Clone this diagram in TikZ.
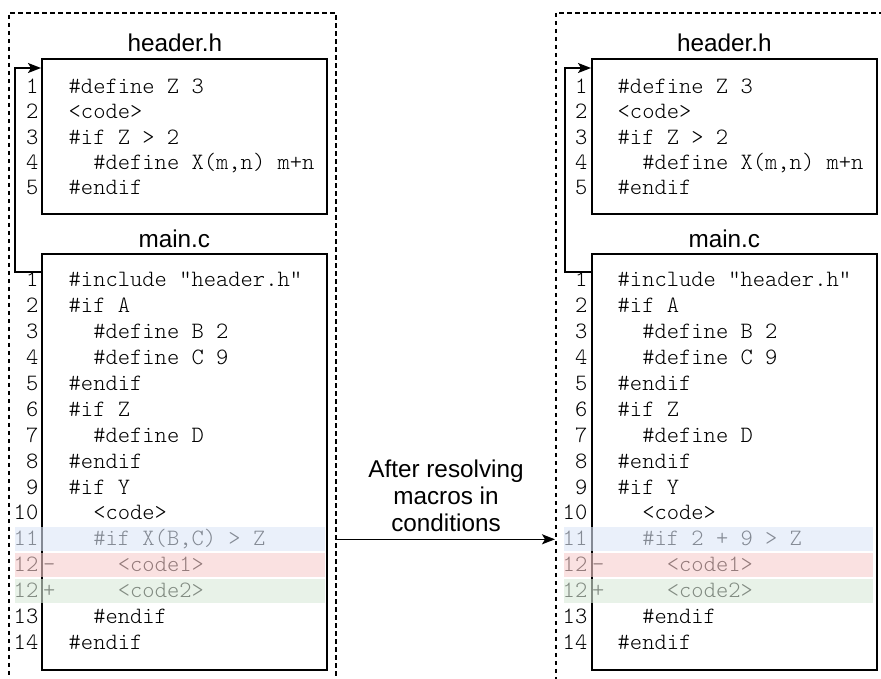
\documentclass[tikz,border=0pt]{standalone}
\usepackage{fontspec}
\setmainfont{Liberation Sans}
\newfontfamily\codefont{lmmonolt10-regular.otf}
\usetikzlibrary{arrows.meta}

\definecolor{rowblue}{RGB}{220,230,247}
\definecolor{rowred}{RGB}{247,205,205}
\definecolor{rowgreen}{RGB}{217,233,217}

% one numbered source line: #1 name prefix, #2 baseline y, #3 line number, #4 indent level, #5 code
\newcommand\mkrow[5]{%
  \node[lnum] (#1n) at (38.5,#2) {#3};
  \node[code] (#1c) at ({68.5+12.3*#4},#2) {#5};
}

\begin{document}
\begin{tikzpicture}[x=1pt,y=-1pt,
  title/.style={font=\fontsize{24.3}{27}\selectfont, anchor=base, inner sep=0pt},
  lnum/.style={font=\codefont\fontsize{23.4}{25}\selectfont, anchor=base east, inner sep=0pt},
  code/.style={font=\codefont\fontsize{23.4}{25}\selectfont, anchor=base west, inner sep=0pt},
  filebox/.style={draw, line width=1.6pt, anchor=north west, inner sep=0pt, minimum width=285pt},
  frame/.style={draw, line width=1.6pt, dash pattern=on 4.5pt off 3.5pt, anchor=north west, inner sep=0pt},
  conn/.style={draw, line width=1.6pt, -{Stealth[length=13pt,width=10pt,inset=3pt]}},
  hl/.style={fill opacity=0.6}
]
\useasboundingbox (0,0) rectangle (881,678);
\clip (0,0) rectangle (881,678);

% dashed frames, open at the bottom
\node[frame, minimum width=327pt, minimum height=720pt] (fL) at (8,12) {};
\node[frame, minimum width=400pt, minimum height=720pt] (fR) at (555,12) {};

% ---------- before ----------
\node[filebox, minimum height=155pt] (hL) at (41,58) {};
\node[filebox, minimum height=416pt] (mL) at (41,253) {};
\node[title] (hLt) at ([xshift=-9.5pt,yshift=7pt]hL.north) {header.h};
\node[title] (mLt) at ([xshift=-10pt,yshift=6pt]mL.north) {main.c};

\mkrow{hLa}{93.5}{1}{0}{\#define Z 3}
\mkrow{hLb}{118.75}{2}{0}{<code>}
\mkrow{hLc}{144}{3}{0}{\#if Z > 2}
\mkrow{hLd}{169.25}{4}{2}{\#define X(m,n) m+n}
\mkrow{hLe}{194.5}{5}{0}{\#endif}

\mkrow{mLa}{286.5}{1}{0}{\#include "header.h"}
\mkrow{mLb}{312.4}{2}{0}{\#if A}
\mkrow{mLc}{338.4}{3}{2}{\#define B 2}
\mkrow{mLd}{364.3}{4}{2}{\#define C 9}
\mkrow{mLe}{390.2}{5}{0}{\#endif}
\mkrow{mLf}{416.2}{6}{0}{\#if Z}
\mkrow{mLg}{442.1}{7}{2}{\#define D}
\mkrow{mLh}{468.0}{8}{0}{\#endif}
\mkrow{mLi}{494.0}{9}{0}{\#if Y}
\mkrow{mLj}{519.9}{10}{2}{<code>}
\mkrow{mLk}{545.8}{11}{2}{\#if X(B,C) > Z}
\mkrow{mLl}{571.7}{12}{4}{<code1>}
\mkrow{mLm}{597.7}{12}{4}{<code2>}
\mkrow{mLn}{623.6}{13}{2}{\#endif}
\mkrow{mLo}{649.5}{14}{0}{\#endif}
\node[code] (mLlm) at (43,571.7) {-};
\node[code] (mLmm) at (43,597.7) {+};

\fill[rowblue,hl]  (15,527.3) rectangle (325,551.3);
\fill[rowred,hl]   (15,553.2) rectangle (325,577.2);
\fill[rowgreen,hl] (15,579.2) rectangle (325,603.2);

\draw[conn] ([yshift=-19pt]mL.north west) -| ([xshift=-26pt,yshift=-10pt]hL.north west) -- ([yshift=-10pt]hL.north west);

% ---------- after ----------
\begin{scope}[xshift=549pt]
\node[filebox, minimum height=155pt] (hR) at (42,58) {};
\node[filebox, minimum height=416pt] (mR) at (42,253) {};
\node[title] (hRt) at ([xshift=-10pt,yshift=7pt]hR.north) {header.h};
\node[title] (mRt) at ([xshift=-10pt,yshift=6pt]mR.north) {main.c};

\mkrow{hRa}{93.5}{1}{0}{\#define Z 3}
\mkrow{hRb}{118.75}{2}{0}{<code>}
\mkrow{hRc}{144}{3}{0}{\#if Z > 2}
\mkrow{hRd}{169.25}{4}{2}{\#define X(m,n) m+n}
\mkrow{hRe}{194.5}{5}{0}{\#endif}

\mkrow{mRa}{286.5}{1}{0}{\#include "header.h"}
\mkrow{mRb}{312.4}{2}{0}{\#if A}
\mkrow{mRc}{338.4}{3}{2}{\#define B 2}
\mkrow{mRd}{364.3}{4}{2}{\#define C 9}
\mkrow{mRe}{390.2}{5}{0}{\#endif}
\mkrow{mRf}{416.2}{6}{0}{\#if Z}
\mkrow{mRg}{442.1}{7}{2}{\#define D}
\mkrow{mRh}{468.0}{8}{0}{\#endif}
\mkrow{mRi}{494.0}{9}{0}{\#if Y}
\mkrow{mRj}{519.9}{10}{2}{<code>}
\mkrow{mRk}{545.8}{11}{2}{\#if 2 + 9 > Z}
\mkrow{mRl}{571.7}{12}{4}{<code1>}
\mkrow{mRm}{597.7}{12}{4}{<code2>}
\mkrow{mRn}{623.6}{13}{2}{\#endif}
\mkrow{mRo}{649.5}{14}{0}{\#endif}
\node[code] (mRlm) at (43,571.7) {-};
\node[code] (mRmm) at (43,597.7) {+};

\fill[rowblue,hl]  (15,527.3) rectangle (324,551.3);
\fill[rowred,hl]   (15,553.2) rectangle (324,577.2);
\fill[rowgreen,hl] (15,579.2) rectangle (324,603.2);

\draw[conn] ([yshift=-19pt]mR.north west) -| ([xshift=-26pt,yshift=-10pt]hR.north west) -- ([yshift=-10pt]hR.north west);
\end{scope}

% transformation step between the two states
\coordinate (stepy) at (445,539.3);
\draw[conn] (fL.east |- stepy) -- (fR.west |- stepy);
\node[title] (lbl1) at (446,477) {After resolving};
\node[title] (lbl2) at (446,504) {macros in};
\node[title] (lbl3) at (446,531) {conditions};
\end{tikzpicture}
\end{document}
